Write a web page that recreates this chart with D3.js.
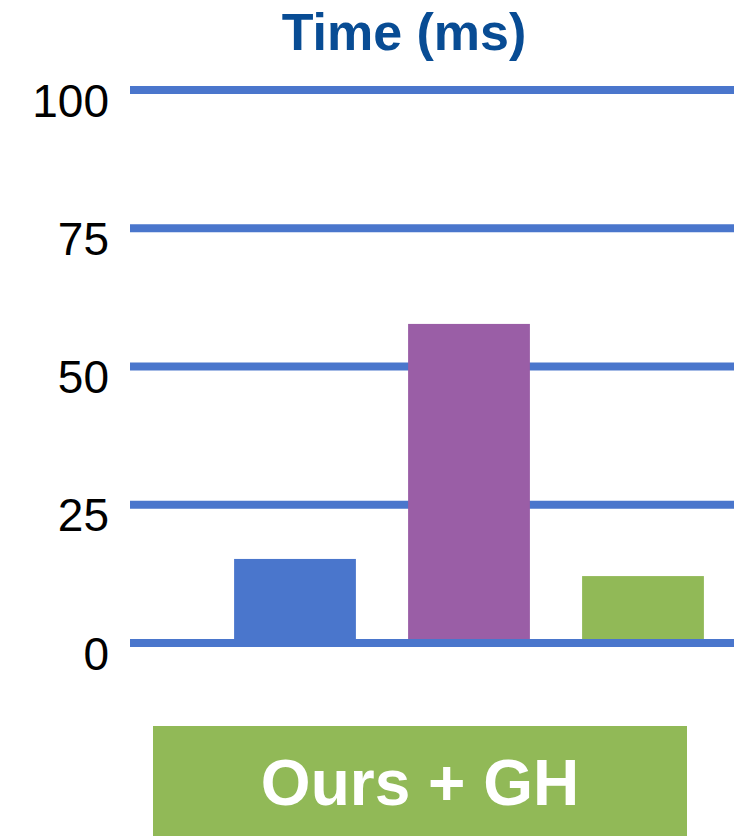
<!DOCTYPE html>
<html>
<head>
<meta charset="utf-8">
<script src="https://cdn.jsdelivr.net/npm/d3@7"></script>
<style>
  html, body { margin: 0; padding: 0; background: #fff; }
  svg { display: block; }
</style>
</head>
<body>
<svg id="chart"></svg>
<script>
const categories = ["A", "B", "C"];
const values = [15.2, 57.7, 12.1];
const barColors = ["#4a76cc", "#9a5ea6", "#91b957"];
const yTicks = [0, 25, 50, 75, 100];
const title = "Time (ms)";
const groupLabel = "Ours + GH";

const width = 744;
const height = 836;
const margin = { top: 90, right: 10, bottom: 193, left: 130 };

const svg = d3.select("#chart")
    .attr("width", width)
    .attr("height", height);

const y = d3.scaleLinear()
    .domain([0, 100])
    .range([height - margin.bottom, margin.top]);

const x = d3.scaleBand()
    .domain(categories)
    .range([208, 730])
    .paddingInner(0.3)
    .paddingOuter(0.15);

const color = d3.scaleOrdinal().domain(categories).range(barColors);

// title
svg.append("text")
    .attr("x", 404)
    .attr("y", 50)
    .attr("text-anchor", "middle")
    .style("font-family", "Liberation Sans, Arial, sans-serif")
    .style("font-weight", 700)
    .style("font-size", "52px")
    .style("fill", "#084c94")
    .text(title);

// gridlines
svg.append("g")
    .selectAll("line")
    .data(yTicks)
    .join("line")
    .attr("x1", margin.left)
    .attr("x2", width - margin.right)
    .attr("y1", d => y(d))
    .attr("y2", d => y(d))
    .attr("stroke", "#4a76cc")
    .attr("stroke-width", 8);

// tick labels
svg.append("g")
    .selectAll("text")
    .data(yTicks)
    .join("text")
    .attr("x", 109)
    .attr("y", d => y(d) + 26.5)
    .attr("text-anchor", "end")
    .style("font-family", "Liberation Sans, Arial, sans-serif")
    .style("font-size", "46px")
    .style("fill", "#000")
    .text(d => d);

// bars
svg.append("g")
    .selectAll("rect")
    .data(values)
    .join("rect")
    .attr("x", (d, i) => x(categories[i]))
    .attr("y", d => y(d))
    .attr("width", x.bandwidth())
    .attr("height", d => y(0) - y(d))
    .attr("fill", (d, i) => color(categories[i]));

// baseline on top of bars
svg.append("line")
    .attr("x1", margin.left)
    .attr("x2", width - margin.right)
    .attr("y1", y(0))
    .attr("y2", y(0))
    .attr("stroke", "#4a76cc")
    .attr("stroke-width", 8);

// group label box
svg.append("rect")
    .attr("x", 153)
    .attr("y", 726)
    .attr("width", 534)
    .attr("height", 110)
    .attr("fill", "#91b957");

svg.append("text")
    .attr("x", 420)
    .attr("y", 805)
    .attr("text-anchor", "middle")
    .style("font-family", "Liberation Sans, Arial, sans-serif")
    .style("font-weight", 700)
    .style("font-size", "64px")
    .style("fill", "#fff")
    .text(groupLabel);
</script>
</body>
</html>
